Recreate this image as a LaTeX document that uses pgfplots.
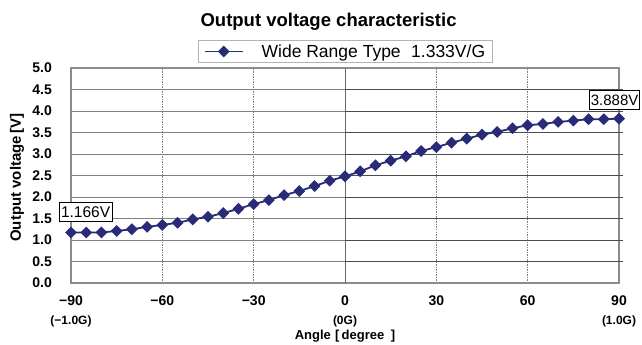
\documentclass[border=0pt]{standalone}
\usepackage{fontspec}
\setmainfont{Liberation Sans}
\usepackage{pgfplots}
\pgfplotsset{compat=1.18}
\definecolor{series}{RGB}{40,44,120}
\definecolor{gridc}{RGB}{128,128,128}
\definecolor{framec}{RGB}{140,140,140}

\pgfplotstableread{
angle volt
-90 1.175
-85 1.175
-80 1.175
-75 1.21
-70 1.25
-65 1.305
-60 1.35
-55 1.40
-50 1.48
-45 1.54
-40 1.625
-35 1.725
-30 1.834
-25 1.928
-20 2.044
-15 2.138
-10 2.254
-5 2.378
0 2.48
5 2.597
10 2.737
15 2.844
20 2.946
25 3.07
30 3.16
35 3.263
40 3.357
45 3.45
50 3.513
55 3.599
60 3.669
65 3.699
70 3.746
75 3.776
80 3.809
85 3.809
90 3.823
}\datatable

\begin{document}
\begin{tikzpicture}
\useasboundingbox (-71pt,-62pt) rectangle (571pt,283pt);
\begin{axis}[
  at={(0,0)}, anchor=south west,
  scale only axis, width=548pt, height=215pt,
  xmin=-90, xmax=90, ymin=0, ymax=5,
  clip=false,
  xtick={-90,-60,-30,0,30,60,90},
  xticklabels={−90,−60,−30,0,30,60,90},
  extra x ticks={-90,0,90},
  extra x tick labels={(−1.0G),(0G),(1.0G)},
  extra x tick style={grid=none, major tick length=0pt,
     xticklabel style={yshift=-20pt, font=\fontsize{12}{14}\selectfont\bfseries}},
  ytick={0,0.5,...,5},
  yticklabel={\pgfmathprintnumber[fixed,fixed zerofill,precision=1]{\tick}},
  /pgf/number format/assume math mode=true,
  major tick length=0pt,
  xticklabel style={anchor=north, inner sep=0pt, yshift=-13pt, font=\fontsize{14}{16}\selectfont\bfseries},
  yticklabel style={anchor=east, inner sep=0pt, xshift=-19pt, font=\fontsize{14}{16}\selectfont\bfseries},
  xmajorgrids, ymajorgrids,
  x grid style={gridc, line width=0.6pt, dash pattern=on 1.5pt off 1pt},
  y grid style={gridc, line width=0.9pt},
  axis line style={framec, line width=1.2pt},
  xlabel={Angle\,\,[\,degree\,\,\,]},
  xlabel style={at={(axis description cs:0.5,0)}, anchor=center, yshift=-53pt, font=\fontsize{13}{15}\selectfont\bfseries},
  ylabel={Output voltage\,[V]},
  ylabel style={at={(axis description cs:0,0.49)}, anchor=center, rotate=0, yshift=54pt, font=\fontsize{15}{17}\selectfont\bfseries},
  title={Output voltage characteristic},
  title style={at={(axis description cs:0.47,1)}, anchor=center, yshift=40pt, font=\fontsize{18.5}{20}\selectfont\bfseries},
  legend style={at={(0.5009,1.0767)}, anchor=center, draw=gridc!60, line width=0.8pt,
     inner xsep=5pt, inner ysep=2pt, font=\fontsize{17.5}{19}\selectfont, fill=white},
  legend image code/.code={\draw[mark repeat=2,mark phase=2,#1] plot coordinates {(0pt,0pt) (19pt,0pt) (38pt,0pt)};},
]
\draw[gray!80!black, line width=1pt] (axis cs:0,0) -- (axis cs:0,5);
\pgfplotsinvokeforeach{0.5,1,1.5,2,2.5,3,3.5,4,4.5}{
  \draw[gray!60!black, line width=1pt] (axis cs:0,#1) -- ++(3.5pt,0);
}
\addplot[series, line width=1.8pt, mark=square*, mark size=3.3pt,
  mark options={rotate=45, fill=series, draw=series}] table[x=angle, y=volt] {\datatable};
\addlegendentry{\hspace*{16pt}Wide Range Type\hspace{0.6em}1.333V/G}
\node[draw=black, line width=1pt, fill=white, inner xsep=2pt, inner ysep=4pt, font=\fontsize{15.5}{17}\selectfont] at (axis cs:-85.2,1.64) {1.166V};
\node[draw=black, line width=1pt, fill=white, inner xsep=1.5pt, inner ysep=4pt, anchor=west, font=\fontsize{15}{17}\selectfont] at (axis cs:80.1,4.25) {3.888V};
\end{axis}
\end{tikzpicture}
\end{document}
